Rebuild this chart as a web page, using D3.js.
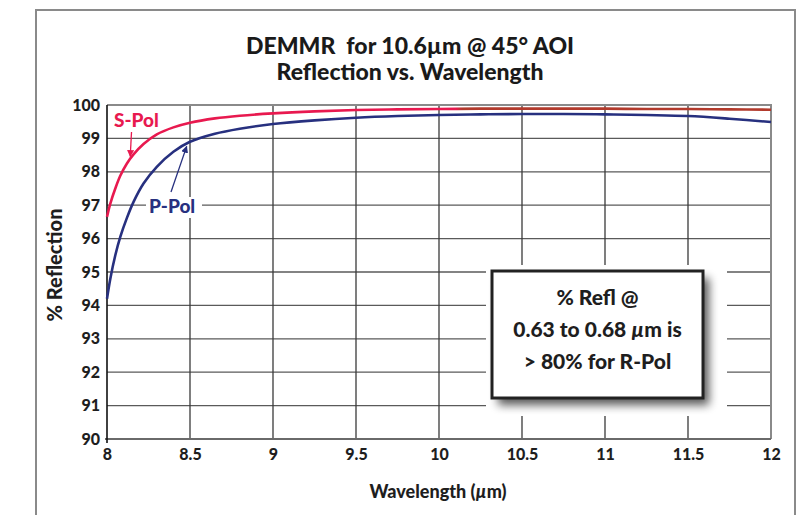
<!DOCTYPE html>
<html>
<head>
<meta charset="utf-8">
<script src="https://cdn.jsdelivr.net/npm/d3@7"></script>
<style>
  html, body { margin: 0; padding: 0; background: #fff; }
  svg { display: block; font-family: Lato, "Open Sans", sans-serif; }
</style>
</head>
<body>
<svg id="chart" width="810" height="515"></svg>
<script>
// Wavelength samples (µm) and reflectance of the two polarisations (%)
const wavelengths = [8.00, 8.02, 8.05, 8.08, 8.12, 8.16, 8.22, 8.30, 8.40, 8.50, 8.65, 8.80,
                     9.00, 9.25, 9.50, 9.75, 10.00, 10.25, 10.50, 10.75, 11.00, 11.25, 11.50, 11.75, 12.00];
const sPol = [96.65, 97.05, 97.50, 97.88, 98.25, 98.52, 98.83, 99.12, 99.33, 99.47, 99.60, 99.68,
              99.75, 99.81, 99.85, 99.87, 99.88, 99.89, 99.89, 99.89, 99.89, 99.88, 99.88, 99.87, 99.86];
const pPol = [94.20, 94.80, 95.50, 96.05, 96.62, 97.10, 97.65, 98.15, 98.60, 98.90, 99.14, 99.29,
              99.43, 99.54, 99.62, 99.67, 99.70, 99.72, 99.73, 99.73, 99.72, 99.70, 99.67, 99.59, 99.49];

const xTicks = [8, 8.5, 9, 9.5, 10, 10.5, 11, 11.5, 12];
const yTicks = [90, 91, 92, 93, 94, 95, 96, 97, 98, 99, 100];
const titleLines = ["DEMMR\u00a0 for 10.6µm @ 45° AOI", "Reflection vs. Wavelength"];
const boxLines = ["% Refl @", "0.63 to 0.68 |µ|m is", "> 80% for R-Pol"];

const svg = d3.select("#chart");
const plot = { left: 107, top: 105, right: 771, bottom: 439 };

const x = d3.scaleLinear().domain([8, 12]).range([plot.left, plot.right]);
const y = d3.scaleLinear().domain([90, 100]).range([plot.bottom, plot.top]);

const defs = svg.append("defs");

// Outer frame
svg.append("path")
  .attr("d", "M36,515 V10 H795 V515")
  .attr("fill", "none").attr("stroke", "#8a8a8a").attr("stroke-width", 2);

// Text helper: segments between "|" are set in italics
function richText(parent, str, attrs) {
  const t = parent.append("text");
  Object.entries(attrs).forEach(([k, v]) => t.attr(k, v));
  str.split("|").forEach((part, j) => {
    t.append("tspan").attr("font-style", j % 2 === 1 ? "italic" : null).text(part);
  });
  return t;
}

// Title
titleLines.forEach((s, i) => {
  svg.append("text")
    .attr("x", 410).attr("y", 54 + i * 26)
    .attr("text-anchor", "middle")
    .attr("font-weight", 900).attr("font-size", 23).attr("fill", "#1a1a1a")
    .text(s);
});

// Grid
svg.append("g").selectAll("line")
  .data(yTicks.filter(d => d > 90 && d < 100))
  .join("line")
  .attr("x1", plot.left).attr("x2", plot.right)
  .attr("y1", d => y(d)).attr("y2", d => y(d))
  .attr("stroke", "#5a5a5a").attr("stroke-width", 1.3);
svg.append("g").selectAll("line")
  .data(xTicks.filter(d => d > 8 && d < 12))
  .join("line")
  .attr("x1", d => x(d)).attr("x2", d => x(d))
  .attr("y1", plot.top).attr("y2", plot.bottom)
  .attr("stroke", "#3a3a3a").attr("stroke-width", 1.3);

// Plot frame: top and right in grey
svg.append("path")
  .attr("d", `M${plot.left},${plot.top} H${plot.right} V${plot.bottom}`)
  .attr("fill", "none").attr("stroke", "#8a8a8a").attr("stroke-width", 2);

// Axes
const xAxis = svg.append("g")
  .attr("transform", `translate(0,${plot.bottom})`)
  .call(d3.axisBottom(x).tickValues(xTicks).tickSize(4).tickPadding(6)
    .tickFormat(d => d3.format("")(d)));
xAxis.select(".domain").attr("stroke", "#6a6a6a").attr("stroke-width", 1.8)
  .attr("d", `M${plot.left - 2},0 H${plot.right}`);
xAxis.selectAll(".tick line").attr("stroke", "none");
xAxis.selectAll(".tick text")
  .attr("font-family", "Lato, sans-serif").attr("font-weight", 900)
  .attr("font-size", 16).attr("fill", "#1e1e1e");

const yAxis = svg.append("g")
  .attr("transform", `translate(${plot.left},0)`)
  .call(d3.axisLeft(y).tickValues(yTicks).tickSize(0).tickPadding(7));
yAxis.select(".domain").attr("stroke", "#111").attr("stroke-width", 1.6)
  .attr("d", `M0,${plot.top} V${plot.bottom + 4}`);
yAxis.selectAll(".tick text")
  .attr("font-family", "Lato, sans-serif").attr("font-weight", 900)
  .attr("font-size", 16).attr("fill", "#1e1e1e");

// Axis titles
richText(svg, "Wavelength (|µ|m)", {
  x: 438, y: 498, "text-anchor": "middle", "font-weight": 900, "font-size": 18, fill: "#1e1e1e"
});
svg.append("text")
  .attr("transform", "translate(62,265) rotate(-90)")
  .attr("text-anchor", "middle")
  .attr("font-weight", 900).attr("font-size", 20).attr("fill", "#1e1e1e")
  .text("% Reflection");

// S-Pol stroke shifts from pink to brick red toward long wavelengths
const grad = defs.append("linearGradient")
  .attr("id", "sGrad").attr("gradientUnits", "userSpaceOnUse")
  .attr("x1", plot.left).attr("x2", plot.right).attr("y1", 0).attr("y2", 0);
const gStop = (x(10.1) - plot.left) / (plot.right - plot.left);
grad.append("stop").attr("offset", 0).attr("stop-color", "#e8194f");
grad.append("stop").attr("offset", gStop).attr("stop-color", "#e8194f");
grad.append("stop").attr("offset", gStop + 0.01).attr("stop-color", "#b23a2c");
grad.append("stop").attr("offset", 1).attr("stop-color", "#b23a2c");

const line = d3.line().curve(d3.curveCatmullRom.alpha(0.5))
  .x((d, i) => x(wavelengths[i])).y(d => y(d));

svg.append("path").datum(pPol)
  .attr("d", line).attr("fill", "none")
  .attr("stroke", "#27307f").attr("stroke-width", 2.6);
svg.append("path").datum(sPol)
  .attr("d", line).attr("fill", "none")
  .attr("stroke", "url(#sGrad)").attr("stroke-width", 2.6);

// Curve labels with arrows
function arrowMarker(id, color) {
  defs.append("marker").attr("id", id)
    .attr("viewBox", "0 0 10 10").attr("refX", 9).attr("refY", 5)
    .attr("markerWidth", 7).attr("markerHeight", 7).attr("markerUnits", "userSpaceOnUse")
    .attr("orient", "auto")
    .append("path").attr("d", "M0,0 L10,5 L0,10 Z").attr("fill", color);
}
arrowMarker("arrS", "#e8194f");
arrowMarker("arrP", "#27307f");

svg.append("text")
  .attr("x", 114).attr("y", 127)
  .attr("font-weight", 900).attr("font-size", 19).attr("fill", "#e8194f")
  .text("S-Pol");
svg.append("line")
  .attr("x1", 131.5).attr("y1", 132)
  .attr("x2", x(8.14)).attr("y2", y(98.4) - 2)
  .attr("stroke", "#e8194f").attr("stroke-width", 1.3)
  .attr("marker-end", "url(#arrS)");

svg.append("rect")
  .attr("x", 146).attr("y", 197).attr("width", 56).attr("height", 21)
  .attr("fill", "#fff");
svg.append("text")
  .attr("x", 149).attr("y", 213)
  .attr("font-weight", 900).attr("font-size", 19).attr("fill", "#27307f")
  .text("P-Pol");
svg.append("line")
  .attr("x1", 171).attr("y1", 192)
  .attr("x2", x(8.48)).attr("y2", y(98.85) + 3)
  .attr("stroke", "#27307f").attr("stroke-width", 1.3)
  .attr("marker-end", "url(#arrP)");

// Callout box with drop shadow
const shadow = defs.append("filter").attr("id", "shadow")
  .attr("x", "-30%").attr("y", "-30%").attr("width", "160%").attr("height", "160%");
shadow.append("feGaussianBlur").attr("stdDeviation", 5);

const box = { x: 492, y: 271, w: 211, h: 127 };
svg.append("rect")
  .attr("x", box.x - 6).attr("y", box.y - 6)
  .attr("width", box.w + 30).attr("height", box.h + 24)
  .attr("fill", "#fff");
svg.append("rect")
  .attr("x", box.x + 6).attr("y", box.y + 7)
  .attr("width", box.w).attr("height", box.h)
  .attr("fill", "#000").attr("opacity", 0.65)
  .attr("filter", "url(#shadow)");
svg.append("rect")
  .attr("x", box.x).attr("y", box.y)
  .attr("width", box.w).attr("height", box.h)
  .attr("fill", "#fff").attr("stroke", "#222").attr("stroke-width", 3);

boxLines.forEach((s, i) => {
  richText(svg, s, {
    x: box.x + box.w / 2, y: 305 + i * 32, "text-anchor": "middle",
    "font-weight": 900, "font-size": 21, fill: "#1e1e1e"
  });
});
</script>
</body>
</html>
